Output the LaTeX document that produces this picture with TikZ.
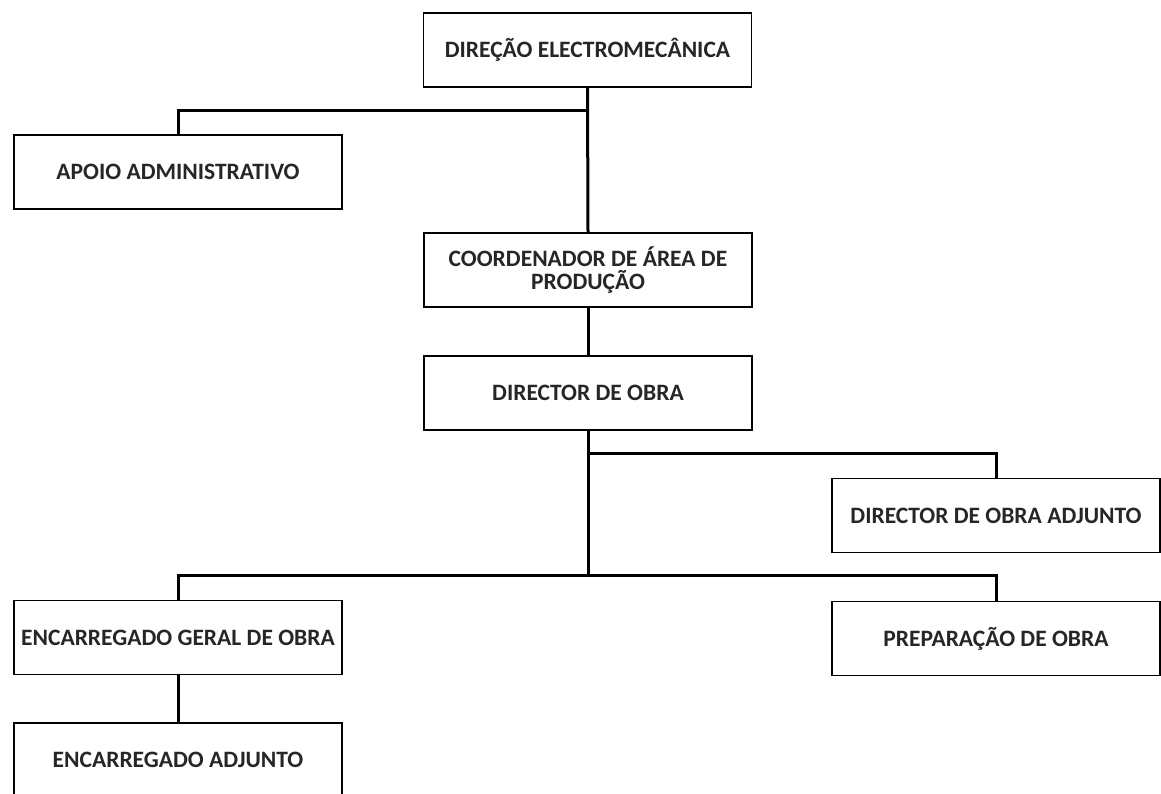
\documentclass[tikz,border=0pt]{standalone}
\usepackage{fontspec}
\setmainfont{Carlito}

\begin{document}
\begin{tikzpicture}[x=1pt,y=-1pt,font=\bfseries\fontsize{23.5}{23}\selectfont,box/.style={draw=black, line width=1.2pt, minimum width=328pt, minimum height=74pt, align=center, text=black!85, inner sep=0pt},link/.style={draw=black, line width=3pt}]
\clip (0,0) rectangle (1161,794);
\useasboundingbox (0,0) rectangle (1161,794);
\node[box] (dir) at (587.5,50) {DIREÇÃO ELECTROMECÂNICA};
\node[box] (apoio) at (178,172) {APOIO ADMINISTRATIVO};
\node[box] (coord) at (588,270) {COORDENADOR DE ÁREA DE\\PRODUÇÃO};
\node[box] (dobra) at (588,393) {DIRECTOR DE OBRA};
\node[box] (adj) at (996,515.5) {DIRECTOR DE OBRA ADJUNTO};
\node[box] (geral) at (178,637.5) {ENCARREGADO GERAL DE OBRA};
\node[box] (prep) at (996,638.5) {PREPARAÇÃO DE OBRA};
\node[box] (encadj) at (178,760) {ENCARREGADO ADJUNTO};
\coordinate (j1) at (588,111);\coordinate (j2) at (588,453);\coordinate (j3) at (588,575);
\draw[link] (dir.south) -- (coord.north);
\draw[link] (j1) -| (apoio.north);
\draw[link] (coord.south) -- (dobra.north);
\draw[link] (dobra.south) -- (j3);
\draw[link] (j2) -| (adj.north);
\draw[link] (geral.north) |- (j3) -| (prep.north);
\draw[link] (geral.south) -- (encadj.north);
\end{tikzpicture}
\end{document}
